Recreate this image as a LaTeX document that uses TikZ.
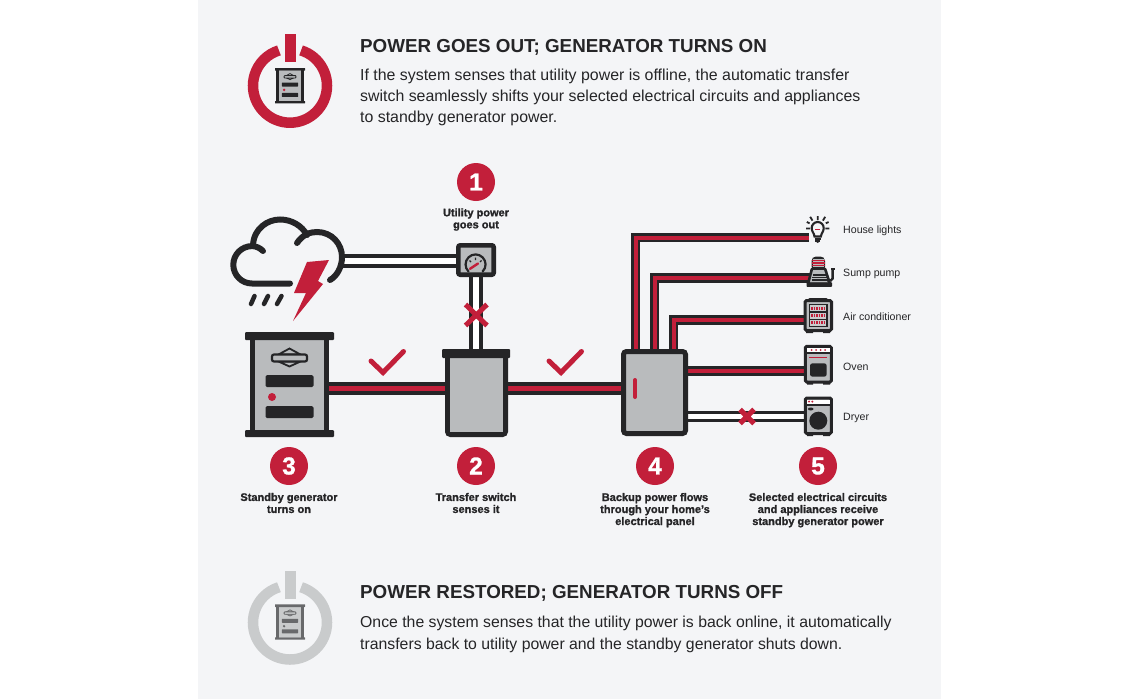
\documentclass[tikz,border=0pt]{standalone}
\usepackage{fontspec}
\setmainfont{Liberation Sans}
\newfontfamily\heavyfont[FakeBold=1.2]{Liberation Sans Bold}
\usetikzlibrary{calc}
\definecolor{dk}{HTML}{252527}
\definecolor{rd}{HTML}{C21F3A}
\definecolor{gy}{HTML}{B9BBBD}
\definecolor{pg}{HTML}{F4F5F7}
\definecolor{lg}{HTML}{C9CBCC}
\definecolor{mg}{HTML}{68696B}
\pgfdeclarelayer{under}\pgfdeclarelayer{wires}
\pgfsetlayers{under,wires,main}
\tikzset{
 mainwire/.style={line width=13.4pt,draw=dk,postaction={draw=rd,line width=5.6pt}},
 livewire/.style={line width=9.8pt,draw=dk,postaction={draw=rd,line width=4pt}},
 deadwire/.style={line width=13.4pt,draw=dk,postaction={draw=white,line width=5.2pt}},
 deadthin/.style={line width=11pt,draw=dk,postaction={draw=white,line width=5.4pt}},
 boxbody/.style={draw=dk,fill=gy,line width=5pt,rounded corners=1.5pt},
 appbody/.style={draw=dk,fill=gy,line width=3pt,rounded corners=1.5pt},
 numdot/.style={circle,fill=rd,minimum size=38pt,inner sep=0pt,text=white,font=\fontsize{24.5}{25}\heavyfont},
 steplabel/.style={align=center,text=dk,font=\fontsize{11}{12}\heavyfont},
 applabel/.style={anchor=west,text=dk,inner sep=0pt,font=\fontsize{10.6}{12}\selectfont},
 heading/.style={anchor=west,text=dk,inner sep=0pt,font=\fontsize{18.8}{20}\selectfont\bfseries},
 bodytext/.style={anchor=north west,align=left,text=dk,inner sep=0pt,font=\fontsize{15.9}{20.7}\selectfont},
 redmark/.style={draw=rd,line width=5pt},
 anchorbox/.style={inner sep=0pt,minimum width=#1},
}
% generator icon: #1 centre, #2 scale, #3 dot colour, #4 outline colour, #5 fill
\newcommand{\genicon}[5]{%
\begin{scope}[shift={#1},scale=#2]
 \fill[#5] (-39.5,-45) rectangle (39.5,45);
 \draw[#4,line width=#2*4pt+0.8pt] (-37,-47) -- (-37,47) (37,-47) -- (37,47);
 \fill[#4,rounded corners=#2*1pt] (-44.5,-52.5) rectangle (44.5,-44.5);
 \fill[#4,rounded corners=#2*1pt] (-44.5,45.5) rectangle (44.5,52.5);
 \draw[#4,line width=#2*1.6pt+0.2pt,line join=miter] (0,-36) -- (-11,-30) -- (11,-30) -- cycle;
 \draw[#4,line width=#2*1.6pt+0.2pt,line join=miter] (0,-18) -- (-11,-23) -- (11,-23) -- cycle;
 \draw[#4,line width=#2*2pt+0.2pt,fill=#5,rounded corners=#2*2pt] (-17.5,-30) rectangle (17.5,-23);
 \fill[#4,rounded corners=#2*1.5pt] (-24,-9.5) rectangle (24,2.5);
 \fill[#4,rounded corners=#2*1.5pt] (-24,21.5) rectangle (24,33.5);
 \fill[#3] (-17.5,12.5) circle (4);
\end{scope}}
% power symbol
\newcommand{\powersym}[2]{%
\begin{scope}[shift={#1}]
 \draw[#2,line width=10.5pt] (-72.6:37) arc[start angle=-72.6,end angle=252.6,radius=37];
 \fill[#2] (-5.5,-51.8) rectangle (5.5,-23.8);
\end{scope}}
\begin{document}
\begin{tikzpicture}[x=1pt,y=-1pt]
\useasboundingbox (0,0) rectangle (1140,699);
\begin{pgfonlayer}{under}
 \fill[white] (0,0) rectangle (1140,699);
 \fill[pg] (198,0) rectangle (941,699);
\end{pgfonlayer}

% --- named parts
\node[anchorbox=79pt,minimum height=105pt] (gen) at (289.5,384.5) {};
\node[anchorbox=59pt,minimum height=88pt] (sw) at (476.5,393) {};
\node[anchorbox=40pt,minimum height=34pt] (meter) at (476,260) {};
\node[anchorbox=65pt,minimum height=85pt] (panel) at (654.5,392.5) {};
\coordinate (mainline) at (400,388.3);
\coordinate (cloudport) at (343,261);
\coordinate (lightport) at (809,237.5);
\coordinate (pumpport) at (811,278);
\coordinate (acport) at (804,320.3);
\coordinate (ovenport) at (804,371.3);
\coordinate (dryerport) at (804,416.5);

% --- connectors
\begin{pgfonlayer}{wires}
 \draw[mainwire] (gen.center |- mainline) -- (sw.center |- mainline) -- (panel.center |- mainline);
 \draw[deadwire] (cloudport) -- (meter.west |- cloudport);
 \draw[deadwire] (meter.center) -- (sw.north -| meter.center);
 \draw[livewire] ($(panel.center)+(-19,0)$) |- (lightport);
 \draw[livewire] (panel.center) |- (pumpport);
 \draw[livewire] ($(panel.center)+(19,0)$) |- (acport);
 \draw[livewire] (panel.center |- ovenport) -- (ovenport);
 \draw[deadthin] (panel.center |- dryerport) -- (dryerport);
\end{pgfonlayer}

% --- top and bottom power symbols
\powersym{(290,85.7)}{rd}
\genicon{(290,85.7)}{0.337}{rd}{dk}{gy}
\powersym{(290,622.5)}{lg}
\genicon{(290,622)}{0.337}{mg}{mg}{lg}

% --- headings
\node[heading] (h1) at (360,47) {POWER GOES OUT; GENERATOR TURNS ON};
\node[bodytext] (b1) at (360,69) {If the system senses that utility power is offline, the automatic transfer\\switch seamlessly shifts your selected electrical circuits and appliances\\to standby generator power.};
\node[heading] (h2) at (360,593) {POWER RESTORED; GENERATOR TURNS OFF};
\node[bodytext,font=\fontsize{15.8}{22}\selectfont] (b2) at (360,616) {Once the system senses that the utility power is back online, it automatically\\transfers back to utility power and the standby generator shuts down.};

% --- cloud
\begin{scope}[draw=dk,line width=6pt,line cap=round]
 \draw (290,283.5) -- (252,283.5) arc[start angle=90,end angle=270,radius=18.7] .. controls (256,246) and (260,248) .. (263,251);
 \draw (253,245) .. controls (254,228) and (268,219.5) .. (280,219.5) .. controls (292,219.5) and (302,226) .. (307,235);
 \draw (297,243) .. controls (303,234) and (311,232) .. (317,232) .. controls (332,232) and (342,244) .. (342,257) .. controls (342,267) and (337,276) .. (330,280);
 \draw[line width=4.5pt,line cap=round] (251,304) -- (254.5,296) (264,304) -- (268,296) (277,304) -- (281.5,296);
\end{scope}
\fill[rd] (307,262) -- (329,260) -- (318,281) -- (323,284) -- (293,321) -- (306,293) -- (294,293) -- cycle;

% --- generator
\genicon{(289.5,384.5)}{1}{rd}{dk}{gy}

% --- transfer switch
\draw[boxbody,rounded corners=3pt] (447.5,355) -- (447.5,434.5) -- (505.5,434.5) -- (505.5,355);
\fill[gy] (450,357) rectangle (503,432);
\fill[dk,rounded corners=1pt] (442,349) rectangle (510,358);

% --- meter
\draw[boxbody,line width=4.6pt,rounded corners=2pt] (458.3,245.3) rectangle (493.7,274.7);
\draw[dk,line width=2.2pt,line cap=round] (468.5,271.5) arc[start angle=135,end angle=405,radius=10];
\draw[rd,line width=2.4pt,line cap=round] (470,268.8) -- (478,263.5);
\draw[dk,line width=1.2pt] (475.5,257.6) -- (475.5,260) (469.5,260.5) -- (471,262) (481.5,260.5) -- (480,262);

% --- panel
\draw[boxbody,rounded corners=3pt] (623.5,351.5) rectangle (685.5,433.5);
\draw[rd,line width=4pt,line cap=round] (635,380) -- (635,397);

% --- red marks
\draw[redmark] (465.5,304.5) -- (487,325.5) (487,304.5) -- (465.5,325.5);
\draw[redmark,line cap=round] (371,361) -- (383,372.5) -- (403.5,351.5);
\draw[redmark,line cap=round] (549,361) -- (561,372.5) -- (581.5,351.5);
\draw[redmark] (740,409.5) -- (754,423.5) (754,409.5) -- (740,423.5);

% --- house lights icon
\node[inner sep=0pt,minimum size=24pt] (bulb) at (817.7,229) {};
\draw[dk,line width=2.1pt] (814.5,236.5) .. controls (814,232.5) and (811.7,232) .. (811.7,228) arc[start angle=180,end angle=360,radius=6] .. controls (823.7,232) and (821.4,232.5) .. (820.9,236.5) -- cycle;
\draw[dk,line width=1.6pt] (814.5,238.8) -- (820.9,238.8) (815,240.8) -- (820.4,240.8);
\fill[dk] (815.8,241.6) -- (819.6,241.6) -- (817.7,243) -- cycle;
\draw[rd,line width=1.6pt] (815.3,229.5) -- (820.1,229.5);
\draw[dk,line width=1.8pt] (817.7,216) -- (817.7,220) (810.2,216.8) -- (812.5,220.6) (825.2,216.8) -- (822.9,220.6) (806,228.5) -- (810,228.5) (825.4,228.5) -- (829.4,228.5) (806.8,222) -- (809.6,223.3) (828.6,222) -- (825.8,223.3);

% --- sump pump icon
\node[inner sep=0pt,minimum size=24pt] (pump) at (820,272) {};
\fill[dk,rounded corners=2pt] (811.5,268.5) -- (811.5,259) -- (814,256.5) -- (822.5,256.5) -- (825,259) -- (825,268.5) -- cycle;
\fill[gy] (813,258.5) rectangle (823.5,268);
\draw[rd,line width=1.4pt] (811.5,260.3) -- (825,260.3) (811.5,263) -- (825,263) (811.5,265.7) -- (825,265.7);
\draw[appbody,line width=2.6pt,rounded corners=1pt] (812,268.5) -- (825,268.5) -- (830,284) -- (808,284) -- cycle;
\fill[dk,rounded corners=.6pt] (806.5,282.4) rectangle (832,286.8);
\draw[dk,line width=1.1pt] (812.5,275) -- (826,275) (812,277.6) -- (826.5,277.6) (811.5,280) -- (827,280);
\draw[dk,line width=2.4pt] (827,280.3) -- (831,280.3) -- (832.6,278.5) -- (832.6,268.8);
\fill[dk] (831,267.6) rectangle (835.4,269.6);

% --- air conditioner icon
\node[inner sep=0pt,minimum size=30pt] (ac) at (818,316) {};
\fill[dk,rounded corners=2pt] (808,298) rectangle (828,303);
\fill[dk] (806,330) rectangle (813,333) (823,330) rectangle (830,333);
\draw[appbody] (805,300.6) rectangle (831.5,330.6);
\draw[dk,line width=1.5pt,fill=lg] (809.5,304.6) rectangle (827,326.6);
\draw[dk,line width=1.3pt] (809.5,311.9) -- (827,311.9) (809.5,319.2) -- (827,319.2);
\draw[rd,line width=3pt,dash pattern=on 1.6pt off .9pt] (811,308.2) -- (825.5,308.2) (811,315.5) -- (825.5,315.5) (811,322.9) -- (825.5,322.9);

% --- oven icon
\node[inner sep=0pt,minimum size=30pt] (oven) at (818,364) {};
\fill[dk] (807,381) rectangle (813,384.5) (823,381) rectangle (830,384.5);
\draw[appbody] (805.3,346.3) rectangle (831.4,382);
\fill[white] (806.8,347.8) rectangle (829.9,352.3);
\draw[dk,line width=1.5pt] (805.3,353) -- (831.4,353);
\fill[rd] (811.7,350) circle (1) (816,350) circle (1) (820.7,350) circle (1) (825,350) circle (1);
\draw[rd,line width=1.4pt] (809,357.3) -- (827.3,357.3);
\fill[dk,rounded corners=2.5pt] (810,363.3) rectangle (826.7,376.7);

% --- dryer icon
\node[inner sep=0pt,minimum size=30pt] (dryer) at (818,416) {};
\fill[dk] (807,432.5) rectangle (813,436) (823,432.5) rectangle (830,436);
\draw[appbody] (805.3,398) rectangle (831.4,433.6);
\fill[white] (806.8,399.5) rectangle (829.9,404);
\draw[dk,line width=1.5pt] (805.3,404.8) -- (831.4,404.8);
\fill[rd] (809,401.6) circle (1.1) (812.3,401.6) circle (1.1);
\fill[dk] (810.7,409) ellipse [x radius=2.8,y radius=1.5];
\fill[dk] (818.3,420.7) circle (9);

% --- numbered dots
\node[numdot] (n1) at (476,182) {1};
\node[numdot] (n3) at (289,466) {3};
\node[numdot] (n2) at (476,466) {2};
\node[numdot] (n4) at (655,466) {4};
\node[numdot] (n5) at (818,466) {5};

\node[steplabel] (t1) at (476,219.5) {Utility power\\goes out};
\node[steplabel] (t3) at (289,503) {Standby generator\\turns on};
\node[steplabel] (t2) at (476,503) {Transfer switch\\senses it};
\node[steplabel,anchor=north] (t4) at (655,489.5) {Backup power flows\\through your home’s\\electrical panel};
\node[steplabel,anchor=north] (t5) at (818,489.5) {Selected electrical circuits\\and appliances receive\\standby generator power};

\node[applabel] (a1) at (843,230.5) {House lights};
\node[applabel] (a2) at (843,273.5) {Sump pump};
\node[applabel] (a3) at (843,316.5) {Air conditioner};
\node[applabel] (a4) at (843,366.5) {Oven};
\node[applabel] (a5) at (843,418) {Dryer};
\end{tikzpicture}
\end{document}
